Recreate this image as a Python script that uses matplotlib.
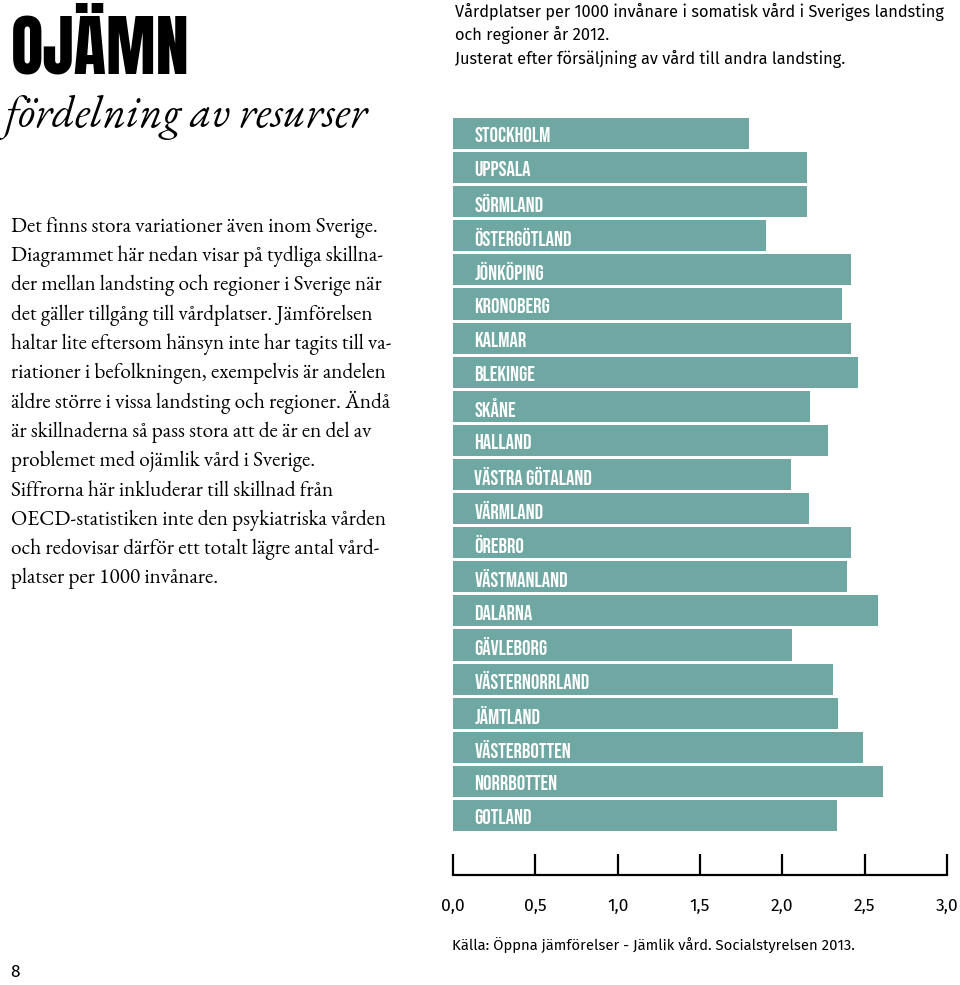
import matplotlib
matplotlib.use('Agg')
import matplotlib.pyplot as plt
from matplotlib import font_manager

# data
regions = ['STOCKHOLM', 'UPPSALA', 'SÖRMLAND', 'ÖSTERGÖTLAND', 'JÖNKÖPING',
           'KRONOBERG', 'KALMAR', 'BLEKINGE', 'SKÅNE', 'HALLAND',
           'VÄSTRA GÖTALAND', 'VÄRMLAND', 'ÖREBRO', 'VÄSTMANLAND', 'DALARNA',
           'GÄVLEBORG', 'VÄSTERNORRLAND', 'JÄMTLAND', 'VÄSTERBOTTEN',
           'NORRBOTTEN', 'GOTLAND']
beds = [1.80, 2.15, 2.15, 1.90, 2.42,
        2.36, 2.42, 2.46, 2.17, 2.28,
        2.05, 2.16, 2.42, 2.39, 2.58,
        2.06, 2.31, 2.34, 2.49, 2.61, 2.33]
tick_values = [0.0, 0.5, 1.0, 1.5, 2.0, 2.5, 3.0]
tick_labels = ['0,0', '0,5', '1,0', '1,5', '2,0', '2,5', '3,0']

title = 'OJÄMN'
subtitle = 'fördelning av resurser'
body_lines = [
    'Det finns stora variationer även inom Sverige.',
    'Diagrammet här nedan visar på tydliga skillna-',
    'der mellan landsting och regioner i Sverige när',
    'det gäller tillgång till vårdplatser. Jämförelsen',
    'haltar lite eftersom hänsyn inte har tagits till va-',
    'riationer i befolkningen, exempelvis är andelen',
    'äldre större i vissa landsting och regioner. Ändå',
    'är skillnaderna så pass stora att de är en del av',
    'problemet med ojämlik vård i Sverige.',
    'Siffrorna här inkluderar till skillnad från',
    'OECD-statistiken inte den psykiatriska vården',
    'och redovisar därför ett totalt lägre antal vård-',
    'platser per 1000 invånare.',
]
caption_lines = [
    'Vårdplatser per 1000 invånare i somatisk vård i Sveriges landsting',
    'och regioner år 2012.',
    'Justerat efter försäljning av vård till andra landsting.',
]
source = 'Källa: Öppna jämförelser - Jämlik vård. Socialstyrelsen 2013.'
page = '8'

installed = {f.name for f in font_manager.fontManager.ttflist}


def pick(*cands):
    got = [c for c in cands if c in installed]
    return got[:1] + ['DejaVu Sans']


W, H = 960, 985
BAR = '#6fa8a2'
SANS = pick('Fira Sans', 'Lato')
LABEL = pick('Bebas Neue', 'Oswald', 'Fjalla One', 'Liberation Sans Narrow')
HEAVY = pick('Anton', 'Bebas Neue', 'Oswald')
SERIF = pick('EB Garamond', 'Cormorant Garamond', 'Liberation Serif')


def fx(x):
    return x / W


def fy(y):
    return 1 - y / H


fig = plt.figure(figsize=(W / 100, H / 100), dpi=100)

# bar chart, pixel box 453..947 x 118..875
ax = fig.add_axes([fx(453), fy(875), (947 - 453) / W, (875 - 118) / H])
ypos = list(range(len(regions)))
ax.barh(ypos, beds, height=0.91, color=BAR, left=0)
for i, name in enumerate(regions):
    ax.text(0.13, i + 0.04, name, color='white', va='center', ha='left',
            fontsize=15, fontweight='bold', family=LABEL)

ax.set_xlim(0, 3)
ax.set_ylim(len(regions) - 1 + 1.745, -0.455)
for s in ['top', 'right', 'left']:
    ax.spines[s].set_visible(False)
ax.spines['bottom'].set_linewidth(1.6)
ax.set_yticks([])
ax.set_xticks(tick_values)
ax.set_xticklabels(tick_labels, family=SANS, fontsize=12.5)
ax.tick_params(axis='x', direction='in', length=15, width=1.6, pad=17)

# left texts
fig.text(fx(11), fy(73), title, fontsize=48, family=HEAVY,
         va='baseline', ha='left')
fig.text(fx(5), fy(127), subtitle, fontsize=32, style='italic', family=SERIF,
         va='baseline', ha='left')
for k, line in enumerate(body_lines):
    fig.text(fx(11), fy(231.7 + k * 29.3), line, fontsize=15.3, family=SERIF,
             va='baseline', ha='left')

# right texts
for k, line in enumerate(caption_lines):
    fig.text(fx(455), fy(17 + k * 23.5), line, fontsize=11.8, family=SANS,
             va='baseline', ha='left')
fig.text(fx(452), fy(951), source, fontsize=10.7, family=SANS,
         va='baseline', ha='left')
fig.text(fx(10), fy(977), page, fontsize=12.5, family=SANS,
         va='baseline', ha='left')

fig.savefig('out.png', dpi=100)
